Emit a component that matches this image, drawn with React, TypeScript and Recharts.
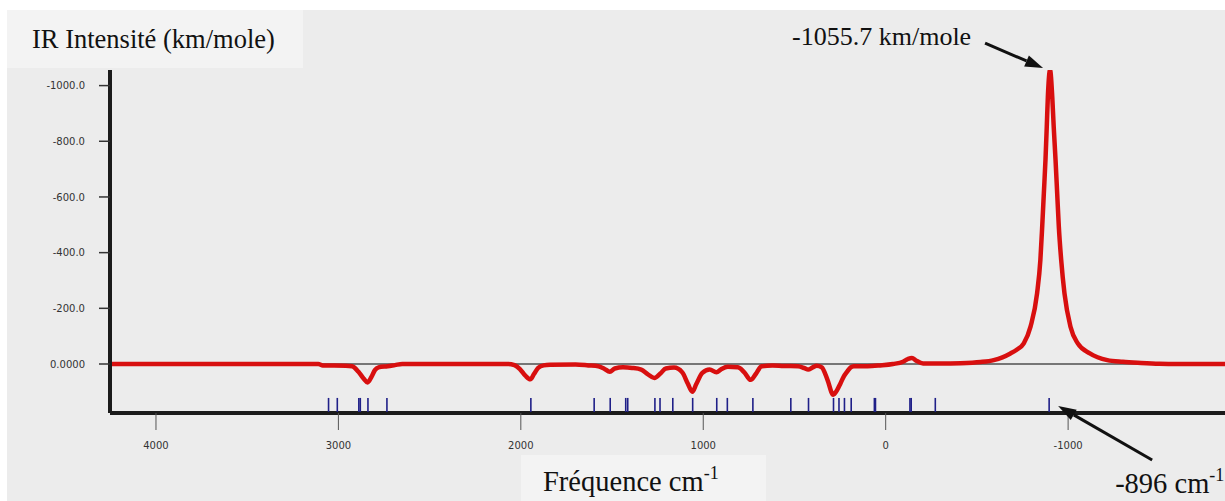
// IR spectrum: red computed curve, blue sticks at each frequency, reversed axes.
import React from "react";
import {
  ComposedChart, Line, Scatter, XAxis, YAxis, ReferenceLine, ReferenceDot,
} from "recharts";

// spectrum (cm-1, plotted intensity; negative is up)
const SPEC_FREQ = [
  4252, 3700, 3300, 3110, 3085, 2960, 2925, 2890, 2862, 2840, 2818, 2800, 2780, 2730, 2690, 2650,
  2070, 2035, 2005, 1975, 1948, 1928, 1905, 1875, 1840, 1700, 1630, 1575, 1545, 1512, 1485, 1440,
  1390, 1340, 1305, 1268, 1235, 1205, 1160, 1115, 1085, 1060, 1038, 1005, 965, 928, 900, 865,
  810, 775, 740, 712, 680, 620, 560, 480, 445, 425, 400, 378, 350, 320, 288, 265,
  248, 230, 212, 192, 175, 100, 30, -40, -95, -122, -144, -168, -205, -300, -410, -520,
  -592, -640, -684, -720, -757, -794, -830, -848, -858, -867, -876, -883, -889, -901, -913, -921,
  -931, -940, -949, -962, -980, -1013, -1053, -1119, -1215, -1300, -1400, -1500, -1600, -1860,
];
const SPEC_INT = [
  0, 0, 0, 0, 5, 6, 8, 28, 52, 66, 45, 22, 12, 8, 4, 0,
  0, 4, 18, 42, 55, 36, 14, 5, 3, 2, 5, 8, 16, 28, 16, 12,
  14, 20, 36, 50, 34, 16, 13, 30, 70, 100, 72, 32, 20, 30, 18, 10,
  12, 30, 57, 36, 8, 5, 7, 8, 15, 20, 12, 6, 12, 55, 110, 92,
  70, 45, 28, 12, 8, 8, 5, 0, -8, -18, -22, -12, -2, -2, -3, -7,
  -14, -24, -38, -52, -74, -134, -254, -374, -494, -614, -734, -853, -960, -1055.7, -960, -853,
  -734, -614, -494, -374, -254, -134, -74, -38, -14, -8, -4, -1, 0, 0,
];

// computed frequencies (blue sticks above the axis)
const STICK_FREQ = [
  3054, 3006, 2888, 2880, 2838, 2734, 1945, 1598, 1510, 1425, 1414, 1265, 1237, 1167, 1058,
  926, 868, 728, 520, 423, 286, 256, 226, 189, 62, 56, -133, -140, -272, -896,
];
const STICK_LEVEL = 147;

const X_TICKS = [4000, 3000, 2000, 1000, 0, -1000];
const Y_TICKS = [-1000, -800, -600, -400, -200, 0];
const PEAK_FREQ = -901;
const PEAK_INT = -1055.7;
const IMAG_FREQ = -896;

const spectrum = SPEC_FREQ.map((x, i) => ({ x, y: SPEC_INT[i] }));
const sticks = STICK_FREQ.map((x) => ({ x, y: STICK_LEVEL }));

const serif = "'Liberation Serif', 'Times New Roman', serif";
const ink = "#111";

function Arrow({ x1, y1, x2, y2 }: { x1: number; y1: number; x2: number; y2: number }) {
  const dx = x2 - x1, dy = y2 - y1;
  const len = Math.hypot(dx, dy);
  const ux = dx / len, uy = dy / len;
  const hl = 18, hw = 6;
  const bx = x2 - ux * hl, by = y2 - uy * hl;
  return (
    <g>
      <line x1={x1} y1={y1} x2={bx} y2={by} stroke={ink} strokeWidth={3} />
      <polygon
        points={`${x2},${y2} ${bx - uy * hw},${by + ux * hw} ${bx + uy * hw},${by - ux * hw}`}
        fill={ink}
      />
    </g>
  );
}

const Stick = (p: any) => (
  <line x1={p.cx} x2={p.cx} y1={p.cy - 7} y2={p.cy + 7} stroke="#1f1f88" strokeWidth={1.6} />
);

const PeakNote = ({ cx, cy }: any) => (
  <g>
    <text x={cx - 258} y={cy - 25} fontFamily={serif} fontSize={26} fill={ink}>-1055.7 km/mole</text>
    <Arrow x1={cx - 65} y1={cy - 27} x2={cx - 7} y2={cy - 2} />
  </g>
);

const FreqNote = ({ cx, cy }: any) => (
  <g>
    <Arrow x1={cx + 103} y1={cy + 55} x2={cx + 9} y2={cy + 1} />
    <text x={cx + 66} y={cy + 88} fontFamily={serif} fontSize={28.5} fill={ink}>
      -896 cm<tspan dy={-12} fontSize={18}>-1</tspan>
    </text>
  </g>
);

const tickFont = { fontSize: 10, fill: "#333", fontFamily: "DejaVu Sans" };

export default function App() {
  return (
    <div style={{ position: "absolute", left: 7, top: 10, width: 1218, height: 491, background: "#ececec", overflow: "hidden" }}>
      <svg width={1218} height={491} style={{ position: "absolute", left: 0, top: 0 }}>
        <rect x={0} y={0} width={296} height={58} fill="#f3f3f3" />
        <text x={25} y={38} fontFamily={serif} fontSize={26.5} fill={ink}>IR Intensité (km/mole)</text>
        <rect x={514} y={445} width={245} height={46} fill="#f3f3f3" />
        <text x={536} y={481} fontFamily={serif} fontSize={28.5} fill={ink}>
          Fréquence cm<tspan dy={-12} fontSize={18}>-1</tspan>
        </text>
      </svg>
      <div style={{ position: "absolute", left: 0, top: 0 }}>
        <ComposedChart width={1218} height={491} margin={{ top: 60, right: 0, bottom: 0, left: 0 }}>
          <XAxis
            dataKey="x" type="number" domain={[-1860, 4252]} reversed allowDataOverflow
            ticks={X_TICKS} interval={0} height={88} tickSize={17} tickMargin={12}
            axisLine={{ stroke: "#1b1b1b", strokeWidth: 4 }}
            tickLine={{ stroke: "#555", strokeWidth: 1 }}
            tick={tickFont}
          />
          <YAxis
            type="number" domain={[-1056, 176]} reversed allowDataOverflow
            ticks={Y_TICKS} interval={0} width={103} tickSize={11} tickMargin={14}
            axisLine={{ stroke: "#1b1b1b", strokeWidth: 4 }}
            tickLine={{ stroke: "#333", strokeWidth: 1.5 }}
            tick={tickFont}
            tickFormatter={(v: number) => (v === 0 ? "0.0000" : v.toFixed(1))}
          />
          <ReferenceLine y={0} stroke="#000" strokeWidth={1} />
          <Line
            data={spectrum} dataKey="y" type="monotone" stroke="#d80f0f" strokeWidth={4.5}
            dot={false} isAnimationActive={false}
          />
          <Scatter data={sticks} dataKey="y" shape={Stick} isAnimationActive={false} />
          <ReferenceDot x={PEAK_FREQ} y={PEAK_INT} shape={PeakNote} />
          <ReferenceDot x={IMAG_FREQ} y={STICK_LEVEL} shape={FreqNote} />
        </ComposedChart>
      </div>
    </div>
  );
}
